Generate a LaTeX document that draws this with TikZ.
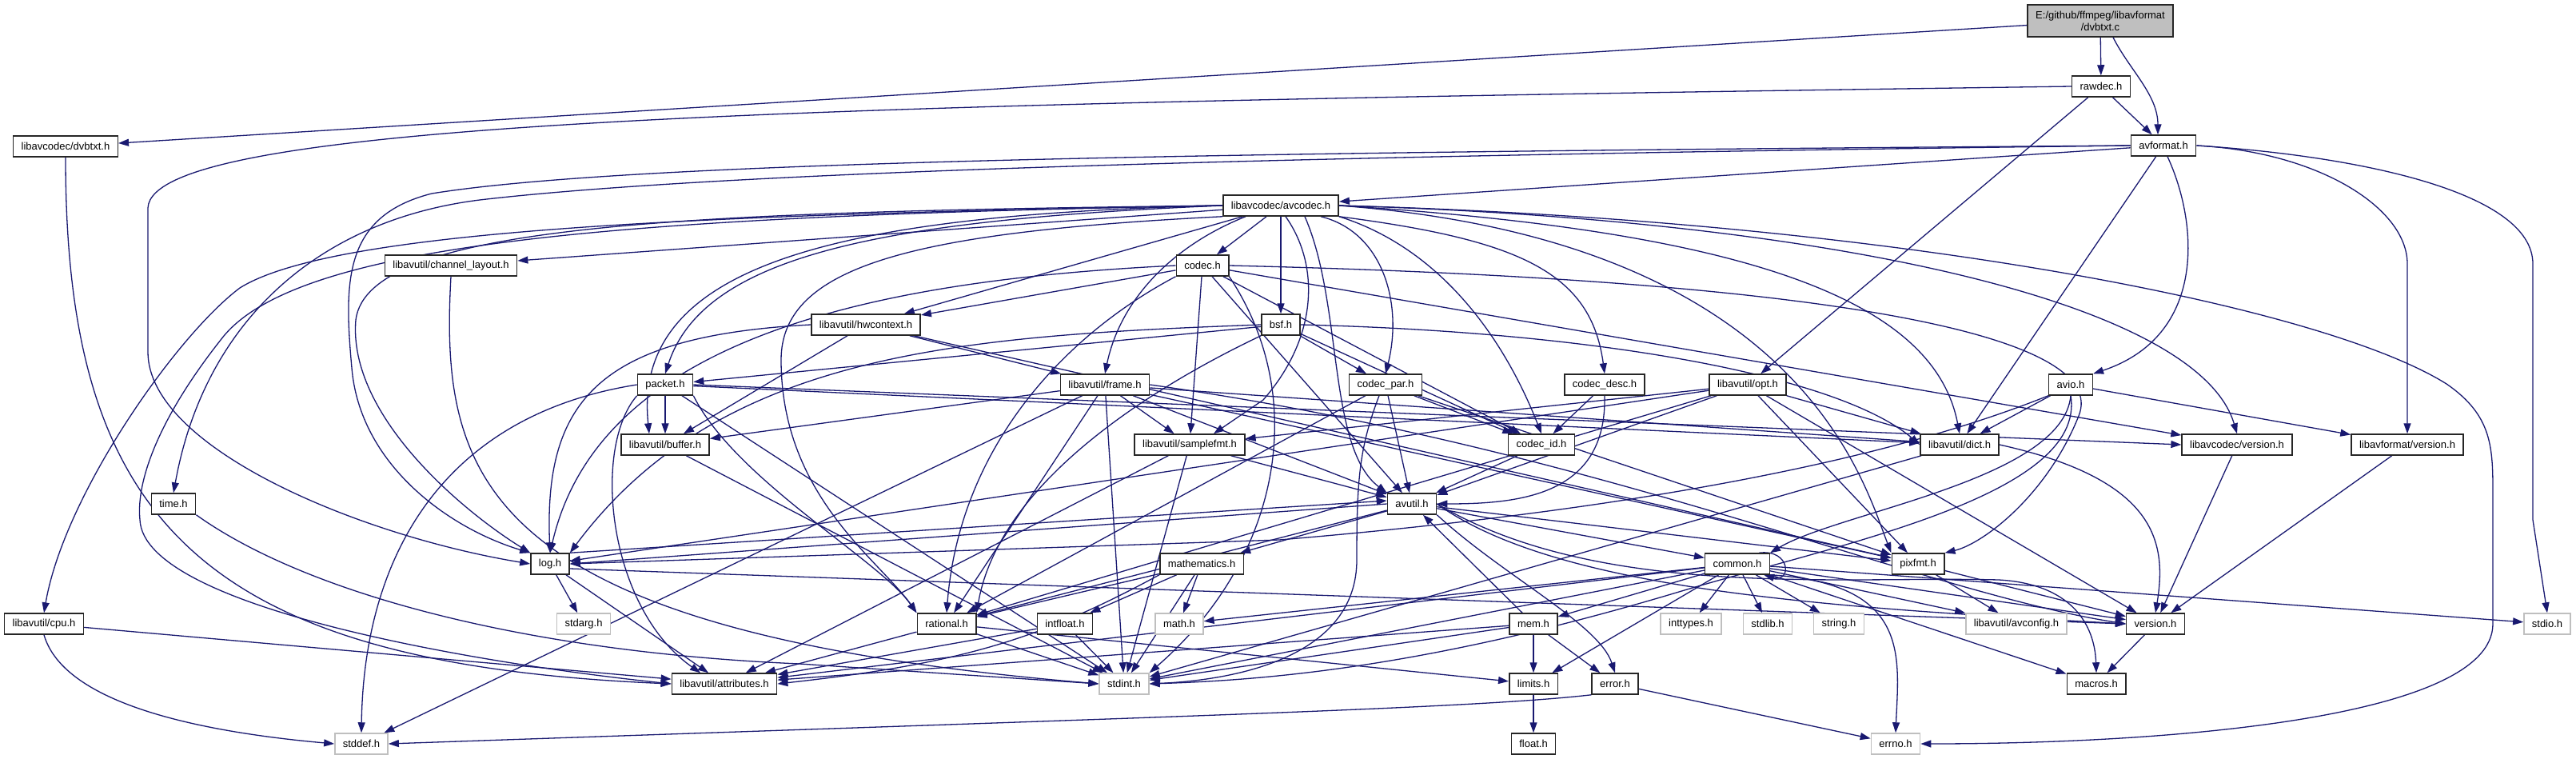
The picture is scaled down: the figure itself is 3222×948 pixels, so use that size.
\documentclass[tikz,border=0pt]{standalone}
\usepackage{fontspec}
\setmainfont{Liberation Sans}
\usetikzlibrary{arrows.meta,backgrounds}
\definecolor{cEdge}{RGB}{25, 25, 112}
\definecolor{cRoot}{RGB}{191, 191, 191}
\definecolor{cSys} {RGB}{191, 191, 191}
\tikzset{
  H/.style     = {draw=black!85, fill=white, line width=1.5pt, minimum height=26pt,
                  inner xsep=10pt, inner ysep=0pt, font=\fontsize{13}{15}\selectfont},
  sysH/.style  = {H, draw=cSys},
  rootH/.style = {H, fill=cRoot, align=center, minimum height=40pt},
  inc/.style   = {-{Triangle[length=13pt,width=9pt]}, draw=cEdge, line width=1.3pt},
}

\begin{document}
\begin{tikzpicture}[x=1pt,y=-1pt]
\useasboundingbox (0,0) rectangle (3222,948);

%% ─── Root and first levels ───────────────────────────────────────
\node[rootH] (dvbtxtc) at (2627,26) {E:/github/ffmpeg/libavformat\\/dvbtxt.c};
\node[H] (rawdec)   at (2628,108) {rawdec.h};
\node[H] (avformat) at (2706,182) {avformat.h};
\node[H] (dvbtxth)  at (82,183)   {libavcodec/dvbtxt.h};
\node[H] (avcodec)  at (1602,257) {libavcodec/avcodec.h};
\node[H] (codec)    at (1504,332) {codec.h};
\node[H] (chlayout) at (564,332)  {libavutil/channel\_layout.h};
\node[H] (hwctx)    at (1083,406) {libavutil/hwcontext.h};
\node[H] (bsf)      at (1602,406) {bsf.h};

%% ─── Middle rows ─────────────────────────────────────────────────
\node[H] (packet)    at (832,481)  {packet.h};
\node[H] (frame)     at (1382,481) {libavutil/frame.h};
\node[H] (codecpar)  at (1733,481) {codec\_par.h};
\node[H] (codecdesc) at (2007,481) {codec\_desc.h};
\node[H] (opt)       at (2186,481) {libavutil/opt.h};
\node[H] (avio)      at (2590,481) {avio.h};
\node[H] (buffer)    at (832,556)  {libavutil/buffer.h};
\node[H] (samplefmt) at (1488,556) {libavutil/samplefmt.h};
\node[H] (codecid)   at (1928,556) {codec\_id.h};
\node[H] (dict)      at (2451,556) {libavutil/dict.h};
\node[H] (lavcver)   at (2798,556) {libavcodec/version.h};
\node[H] (lavfver)   at (3011,556) {libavformat/version.h};
\node[H] (timeh)     at (217,630)  {time.h};
\node[H] (avutil)    at (1766,630) {avutil.h};
\node[H] (log)       at (688,705)  {log.h};
\node[H] (mathem)    at (1503,705) {mathematics.h};
\node[H] (common)    at (2173,705) {common.h};
\node[H] (pixfmt)    at (2399,705) {pixfmt.h};

%% ─── Lower rows ──────────────────────────────────────────────────
\node[H]    (cpu)      at (55,780)   {libavutil/cpu.h};
\node[sysH] (stdarg)   at (730,780)  {stdarg.h};
\node[H]    (rational) at (1184,780) {rational.h};
\node[H]    (intfloat) at (1332,780) {intfloat.h};
\node[sysH] (mathh)    at (1475,780) {math.h};
\node[H]    (mem)      at (1918,780) {mem.h};
\node[sysH] (inttypes) at (2115,780) {inttypes.h};
\node[sysH] (stdlibh)  at (2211,780) {stdlib.h};
\node[sysH] (stringh)  at (2300,780) {string.h};
\node[sysH] (avconfig) at (2522,780) {libavutil/avconfig.h};
\node[H]    (version)  at (2696,780) {version.h};
\node[sysH] (stdio)    at (3186,780) {stdio.h};
\node[H]    (attrib)   at (906,855)  {libavutil/attributes.h};
\node[sysH] (stdint)   at (1406,855) {stdint.h};
\node[H]    (limits)   at (1918,855) {limits.h};
\node[H]    (error)    at (2020,855) {error.h};
\node[H]    (macros)   at (2622,855) {macros.h};
\node[sysH] (stddef)   at (452,930)  {stddef.h};
\node[H]    (floath)   at (1918,930) {float.h};
\node[sysH] (errno)    at (2371,930) {errno.h};

\begin{pgfonlayer}{background}
\fill[white] (0,0) rectangle (3222,948);

%% ─── dvbtxt.c, rawdec.h, avformat.h ──────────────────────────────
\draw[inc] (dvbtxtc) -- (dvbtxth);
\draw[inc] (dvbtxtc) -- (rawdec);
\draw[inc] ([xshift=16pt]dvbtxtc.south) .. controls +(20,40) and +(0,-50) .. ([xshift=-7pt]avformat.north);
\draw[inc] (dvbtxth.south) .. controls (82,650) and (250,830) .. (attrib.west);
\draw[inc] (rawdec) -- (avformat);
\draw[inc] (rawdec) -- (opt);
\draw[inc] (rawdec.west) .. controls (1000,130) and (190,150) .. (185,260) -- (185,440)
  .. controls (185,560) and (450,670) .. (log.west);
\draw[inc] (avformat) -- (avcodec);
\draw[inc] (avformat) -- (dict);
\draw[inc] (avformat.west) .. controls (1600,195) and (900,215) .. (600,250)
  .. controls (400,275) and (256,400) .. (timeh.north);
\draw[inc] (avformat.west) .. controls (1600,190) and (800,200) .. (540,242)
  .. controls (430,270) and (430,350) .. (440,460) .. controls (450,580) and (560,660) .. (log.north west);
\draw[inc] ([xshift=5pt]avformat.south) .. controls (2750,280) and (2760,420) .. (avio.north east);
\draw[inc] (avformat.east) .. controls (2900,190) and (3011,260) .. (3011,330) -- (lavfver.north);
\draw[inc] (avformat.east) .. controls (2950,195) and (3168,240) .. (3168,330) -- (3168,650) -- (stdio.north);

%% ─── avcodec.h ───────────────────────────────────────────────────
\draw[inc] (avcodec) -- (codec);
\draw[inc] (avcodec) -- (bsf);
\draw[inc] (avcodec) -- (hwctx);
\draw[inc] (avcodec) -- (chlayout);
\draw[inc] ([xshift=-44pt]avcodec.south) .. controls (1460,310) and (1400,380) .. (frame.north);
\draw[inc] (avcodec.west) .. controls (1100,275) and (880,320) .. (packet.north);
\draw[inc] (avcodec.west) .. controls (1050,268) and (790,330) .. ([xshift=-20pt]buffer.north);
\draw[inc] (avcodec.west) .. controls (850,265) and (460,280) .. (445,400)
  .. controls (435,520) and (580,640) .. (log.north west);
\draw[inc] (avcodec.west) .. controls (900,268) and (420,285) .. (300,360)
  .. controls (220,420) and (80,620) .. (cpu.north);
\draw[inc] (avcodec.west) .. controls (800,270) and (380,300) .. (280,420)
  .. controls (200,520) and (170,600) .. (175,650) .. controls (180,760) and (600,830) .. (attrib.west);
\draw[inc] (avcodec.south west) .. controls (1150,290) and (977,330) .. (977,450)
  .. controls (977,620) and (1100,700) .. (rational.north west);
\draw[inc] ([xshift=6pt]avcodec.south) .. controls (1650,330) and (1650,420) .. (1580,500) -- ([xshift=30pt]samplefmt.north);
\draw[inc] ([xshift=30pt]avcodec.south) .. controls (1680,380) and (1660,560) .. (avutil.north west);
\draw[inc] ([xshift=50pt]avcodec.south) .. controls (1730,290) and (1755,380) .. (codecpar.north);
\draw[inc] (avcodec.south east) .. controls (1900,300) and (1990,340) .. (codecdesc.north);
\draw[inc] (avcodec.south east) .. controls (1800,310) and (1880,420) .. (codecid.north);
\draw[inc] (avcodec.east) .. controls (2200,290) and (2420,380) .. (dict.north);
\draw[inc] (avcodec.east) .. controls (2300,275) and (2750,380) .. (lavcver.north);
\draw[inc] (avcodec.east) .. controls (2250,300) and (2330,600) .. (pixfmt.north west);
\draw[inc] (avcodec.east) .. controls (2350,275) and (2900,380) .. (3060,480)
  .. controls (3118,520) and (3118,560) .. (3118,620) -- (3118,780)
  .. controls (3118,900) and (2700,930) .. (errno.east);

%% ─── codec.h, hwcontext.h, bsf.h ─────────────────────────────────
\draw[inc] (codec) -- (hwctx);
\draw[inc] (codec) -- (samplefmt);
\draw[inc] (codec) -- (avutil);
\draw[inc] (codec) -- (codecid);
\draw[inc] (codec) -- (lavcver);
\draw[inc] (codec.west) .. controls (1100,350) and (750,420) .. (log.north);
\draw[inc] (codec.south west) .. controls (1330,420) and (1200,560) .. (rational.north);
\draw[inc] (codec.south east) .. controls (1640,500) and (1600,700) .. (stdint.north east);
\draw[inc] (codec.east) .. controls (2300,350) and (2640,420) .. (2600,520)
  .. controls (2560,620) and (2480,680) .. (pixfmt.north east);
\draw[inc] (hwctx) -- (buffer);
\draw[inc] (hwctx) -- (frame);
\draw[inc] (hwctx) -- (pixfmt);
\draw[inc] (hwctx.west) .. controls (750,420) and (680,500) .. (log.north);
\draw[inc] (bsf) -- (codecpar);
\draw[inc] (bsf) -- (codecid);
\draw[inc] (bsf) -- (packet);
\draw[inc] (bsf.east) .. controls (2000,415) and (2300,470) .. (dict.west);
\draw[inc] (bsf.west) .. controls (1200,420) and (900,440) .. (log.north east);
\draw[inc] (bsf.south west) .. controls (1450,480) and (1250,600) .. (rational.north east);

%% ─── packet.h, frame.h ───────────────────────────────────────────
\draw[inc] (packet) -- (buffer);
\draw[inc] (packet) -- (stdint);
\draw[inc] (packet) -- (dict);
\draw[inc] (packet.east) -- (lavcver.west);
\draw[inc] (packet.west) .. controls (550,520) and (455,700) .. (stddef.north);
\draw[inc] (packet.south west) .. controls (740,560) and (760,760) .. ([xshift=-30pt]attrib.north);
\draw[inc] (packet.south east) .. controls (920,600) and (1100,700) .. (rational.north west);
\draw[inc] (frame) -- (buffer);
\draw[inc] (frame) -- (stddef);
\draw[inc] (frame) -- (samplefmt);
\draw[inc] (frame) -- (avutil);
\draw[inc] (frame) -- (dict);
\draw[inc] (frame) -- (rational);
\draw[inc] (frame) -- (stdint);
\draw[inc] (frame) -- (pixfmt);
\draw[inc] (frame.east) .. controls (2000,560) and (2400,740) .. (version.west);

%% ─── codec_par.h, codec_desc.h, opt.h, avio.h ────────────────────
\draw[inc] (codecpar) -- (avutil);
\draw[inc] (codecpar) -- (codecid);
\draw[inc] (codecpar) -- (pixfmt);
\draw[inc] (codecpar) -- (rational);
\draw[inc] ([xshift=-8pt]codecpar.south) .. controls (1700,560) and (1697,600) .. (1697,700)
  .. controls (1697,820) and (1550,850) .. (stdint.east);
\draw[inc] (codecdesc) -- (codecid);
\draw[inc] (codecdesc.south) .. controls (2010,620) and (1900,630) .. (avutil.east);
\draw[inc] (opt) -- (dict);
\draw[inc] (opt) -- (pixfmt);
\draw[inc] (opt) -- (version);
\draw[inc] (opt) -- (avutil);
\draw[inc] (opt) -- (samplefmt);
\draw[inc] (opt) -- (log);
\draw[inc] (opt) -- (rational);
\draw[inc] (avio) -- (dict);
\draw[inc] (avio) -- (lavfver);
\draw[inc] (avio.south) .. controls (2580,600) and (2300,640) .. (common.north east);
\draw[inc] (avio.south west) .. controls (2300,600) and (1900,650) .. (1600,675) -- (log.east);
\draw[inc] (avio.south) .. controls (2610,620) and (2300,680) .. (2100,740)
  .. controls (1800,830) and (1600,850) .. (stdint.east);

%% ─── buffer.h, samplefmt.h, dict.h, versions ─────────────────────
\draw[inc] (buffer) -- (stdint);
\draw[inc] (samplefmt) -- (stdint);
\draw[inc] (samplefmt) -- (avutil);
\draw[inc] (samplefmt) -- (attrib);
\draw[inc] (codecid) -- (avutil);
\draw[inc] (dict) -- (stdint);
\draw[inc] (dict.east) .. controls (2700,600) and (2710,680) .. (version.north);
\draw[inc] (lavcver) -- (version);
\draw[inc] (lavfver) -- (version);
\draw[inc] (timeh.south east) .. controls (380,740) and (650,815) .. (1000,830) -- (stdint.west);
\draw[inc] (chlayout.south) .. controls (550,600) and (600,790) .. (stdint.west);

%% ─── avutil.h, log.h, mathematics.h ──────────────────────────────
\draw[inc] (avutil) -- (common);
\draw[inc] (avutil) -- (mathem);
\draw[inc] (avutil) -- (rational);
\draw[inc] (avutil) -- (pixfmt);
\draw[inc] (avutil.west) -- (log.east);
\draw[inc] (avutil.east) .. controls (1950,740) and (2300,760) .. (version.west);
\draw[inc] (avutil.east) .. controls (2000,750) and (2300,720) .. (2500,725)
  .. controls (2590,730) and (2620,780) .. (macros.north);
\draw[inc] (avutil.south east) .. controls (1880,720) and (2000,780) .. (error.north);
\draw[inc] (log) -- (stdarg);
\draw[inc] (log) -- (attrib);
\draw[inc] (log.north east) -- ([yshift=4pt]avutil.west);
\draw[inc] ([yshift=-6pt]log.east) -- (version.west);
\draw[inc] (mathem) -- (mathh);
\draw[inc] (mathem) -- (intfloat);
\draw[inc] (mathem) -- (rational);
\draw[inc] (mathem) -- (stdint);
\draw[inc] (mathem.south west) .. controls (1300,800) and (1200,830) .. (attrib.east);

%% ─── common.h, pixfmt.h ──────────────────────────────────────────
\draw[inc] (common) -- (mem);
\draw[inc] (common) -- (inttypes);
\draw[inc] (common) -- (stdlibh);
\draw[inc] (common) -- (stringh);
\draw[inc] (common) -- (limits);
\draw[inc] (common) -- (mathh);
\draw[inc] (common) -- (stdint);
\draw[inc] (common) -- (attrib);
\draw[inc] (common) -- (macros);
\draw[inc] (common) -- (version);
\draw[inc] (common) -- (avconfig);
\draw[inc] (common) -- (stdio);
\draw[inc] (common.south east) .. controls (2390,730) and (2375,820) .. (errno.north);
\draw[inc] ([xshift=-14pt]common.north east) .. controls +(40,-5) and +(35,10) .. ([xshift=-8pt]common.south east);
\draw[inc] (pixfmt) -- (avconfig);
\draw[inc] (pixfmt) -- (version);

%% ─── bottom rows ─────────────────────────────────────────────────
\draw[inc] (cpu) -- (attrib);
\draw[inc] (cpu.south) .. controls (80,880) and (250,915) .. (stddef.west);
\draw[inc] (rational) -- (stdint);
\draw[inc] (rational) -- (attrib);
\draw[inc] (rational) -- (limits);
\draw[inc] (intfloat) -- (stdint);
\draw[inc] (intfloat) -- (attrib);
\draw[inc] (mem) -- (limits);
\draw[inc] (mem) -- (error);
\draw[inc] (mem) -- (stdint);
\draw[inc] (mem) -- (attrib);
\draw[inc] (mem) -- (avutil);
\draw[inc] (version) -- (macros);
\draw[inc] (limits) -- (floath);
\draw[inc] (error) -- (errno);
\draw[inc] (error.south west) .. controls (1850,885) and (1500,895) .. (stddef.east);
\end{pgfonlayer}

\end{tikzpicture}
\end{document}
